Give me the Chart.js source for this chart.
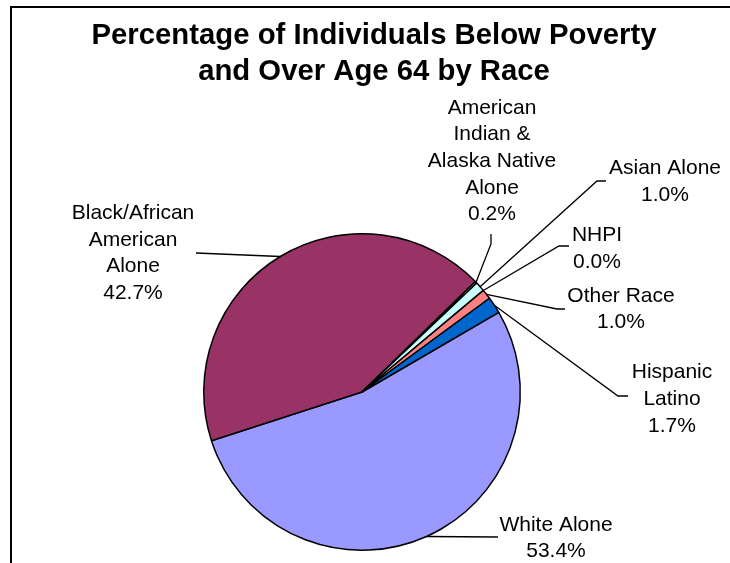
<!DOCTYPE html>
<html>
<head>
<meta charset="utf-8">
<title>Poverty Over Age 64 by Race</title>
<script src="https://cdn.jsdelivr.net/npm/chart.js@4"></script>
<style>
  body { margin: 0; background: #fff; }
  canvas { display: block; }
</style>
</head>
<body>
<canvas id="povertyPie" width="730" height="563"></canvas>
<script>
// data
const categories = ['White Alone', 'Black/African American Alone', 'American Indian & Alaska Native Alone',
    'Asian Alone', 'NHPI', 'Other Race', 'Hispanic Latino'];
const percents = [53.4, 42.7, 0.2, 1.0, 0.0, 1.0, 1.7];
const sliceColors = ['#9999FF', '#993366', '#FFFFCC', '#CCFFFF', '#660066', '#FF8080', '#0066CC'];
const titleLines = ['Percentage of Individuals Below Poverty', 'and Over Age 64 by Race'];

// where each callout label sits and how its leader line bends
const labelLayout = [
    {lines: ['White Alone'], x: 556, y: 525, step: 26, path: [[498, 537]]},
    {lines: ['Black/African', 'American', 'Alone'], x: 133, y: 213, step: 26.8, path: [[196, 253]]},
    {lines: ['American', 'Indian &', 'Alaska Native', 'Alone'], x: 492, y: 108, step: 26.6, path: [[491, 244], [491, 234]]},
    {lines: ['Asian Alone'], x: 665, y: 168, step: 27, path: [[597, 181], [606, 181]]},
    {lines: ['NHPI'], x: 597, y: 235, step: 27, path: [[559, 246], [569, 246]]},
    {lines: ['Other Race'], x: 621, y: 296, step: 26, path: [[557, 309], [565, 309]]},
    {lines: ['Hispanic', 'Latino'], x: 672, y: 372, step: 27, path: [[618, 396], [628, 396]]}
];

const FONT = '"Liberation Sans", Arial, sans-serif';

// frame, title and the labels with leader lines
const calloutPlugin = {
    id: 'callouts',
    afterDraw(chart) {
        const ctx = chart.ctx;
        const arcs = chart.getDatasetMeta(0).data;
        ctx.save();
        ctx.strokeStyle = '#000';
        ctx.fillStyle = '#000';

        ctx.lineWidth = 2;
        ctx.beginPath();
        ctx.moveTo(11, 563);
        ctx.lineTo(11, 7);
        ctx.lineTo(730, 7);
        ctx.stroke();

        ctx.textAlign = 'center';
        ctx.textBaseline = 'middle';
        ctx.font = 'bold 29.3px ' + FONT;
        titleLines.forEach((t, i) => ctx.fillText(t, 374, 36 + i * 36));

        ctx.font = '21px ' + FONT;
        ctx.lineWidth = 1.3;
        labelLayout.forEach((lab, i) => {
            const arc = arcs[i];
            const mid = (arc.startAngle + arc.endAngle) / 2;
            const ax = arc.x + Math.cos(mid) * arc.outerRadius;
            const ay = arc.y + Math.sin(mid) * arc.outerRadius;
            ctx.beginPath();
            ctx.moveTo(ax, ay);
            lab.path.forEach(p => ctx.lineTo(p[0], p[1]));
            ctx.stroke();

            const text = lab.lines.concat(percents[i].toFixed(1) + '%');
            text.forEach((t, k) => ctx.fillText(t, lab.x, lab.y + k * lab.step));
        });
        ctx.restore();
    }
};

const chart = new Chart(document.getElementById('povertyPie'), {
    type: 'pie',
    data: {
        labels: categories,
        datasets: [{
            data: percents,
            backgroundColor: sliceColors,
            borderColor: '#000',
            borderWidth: 1.5
        }]
    },
    options: {
        responsive: false,
        animation: false,
        rotation: 59.8,
        layout: {
            padding: {left: 203, right: 209, top: 233, bottom: 12}
        },
        plugins: {
            legend: {display: false},
            tooltip: {enabled: false}
        }
    },
    plugins: [calloutPlugin]
});
</script>
</body>
</html>
